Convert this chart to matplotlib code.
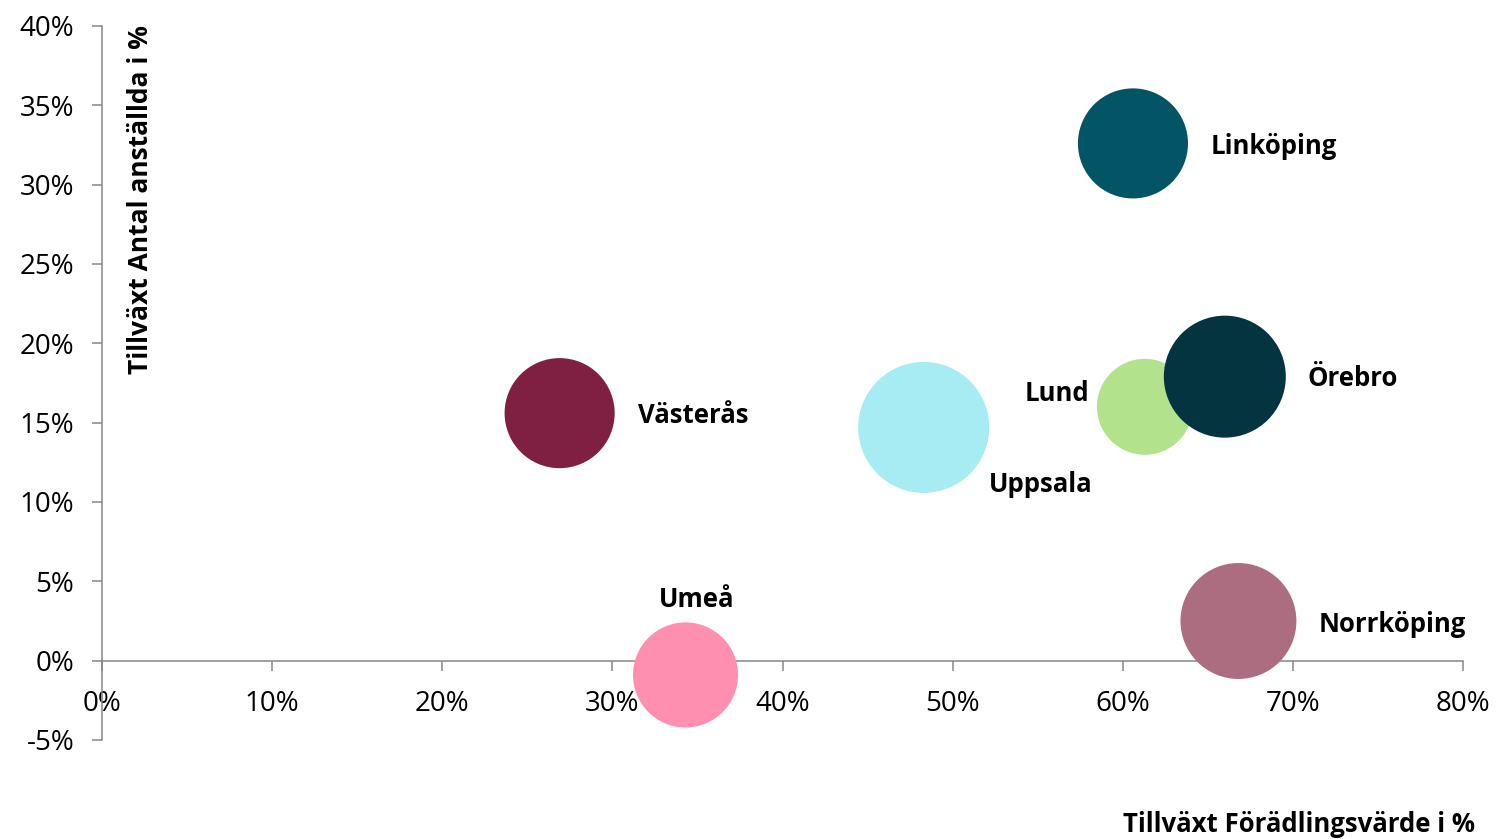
import matplotlib
matplotlib.use('Agg')
import matplotlib.pyplot as plt
from matplotlib.ticker import PercentFormatter

# data
cities = ['Linköping', 'Lund', 'Örebro', 'Uppsala', 'Västerås', 'Umeå', 'Norrköping']
growth_value = [60.6, 61.3, 66.0, 48.3, 26.9, 34.3, 66.8]      # Tillväxt Förädlingsvärde i %
growth_staff = [32.6, 16.0, 17.9, 14.7, 15.6, -0.9, 2.5]       # Tillväxt Antal anställda i %
bubble_size = [30.3, 23.0, 37.2, 42.9, 30.3, 27.6, 33.6]
colors = ['#035566', '#b3e28d', '#033440', '#a6ecf2', '#7f1f42', '#ff8fb1', '#ad6d80']

x_ticks = [0, 10, 20, 30, 40, 50, 60, 70, 80]
y_ticks = [-5, 0, 5, 10, 15, 20, 25, 30, 35, 40]

# label placement (offset in pixels from bubble centre, alignment)
label_pos = {
    'Linköping': (78, -3, 'left'),
    'Lund': (-56, 13, 'right'),
    'Örebro': (83, -2, 'left'),
    'Uppsala': (65, -57, 'left'),
    'Västerås': (78, -2, 'left'),
    'Umeå': (11, 75, 'center'),
    'Norrköping': (80, -4, 'left'),
}

plt.rcParams['font.family'] = ['Open Sans', 'DejaVu Sans']
plt.rcParams['axes.unicode_minus'] = False

dpi = 100
fig = plt.figure(figsize=(14.96, 8.39), dpi=dpi)
ax = fig.add_axes([102 / 1496, 1 - 740 / 839, (1463 - 102) / 1496, (740 - 26) / 839])

px = 72 / dpi
sizes = [(2 * (s * 100) ** 0.5 * px) ** 2 for s in bubble_size]
ax.scatter(growth_value, growth_staff, s=sizes, c=colors, linewidths=0, zorder=3)

for name, xv, yv in zip(cities, growth_value, growth_staff):
    dx, dy, ha = label_pos[name]
    ax.annotate(name, (xv, yv), xytext=(dx * px, dy * px), textcoords='offset points',
                ha=ha, va='center', fontsize=18.5, fontweight='bold', zorder=4)

ax.set_xlim(0, 80)
ax.set_ylim(-5, 40)
ax.set_xticks(x_ticks)
ax.set_yticks(y_ticks)
ax.xaxis.set_major_formatter(PercentFormatter(decimals=0))
ax.yaxis.set_major_formatter(PercentFormatter(decimals=0))

ax.spines['top'].set_visible(False)
ax.spines['right'].set_visible(False)
ax.spines['bottom'].set_position(('data', 0))
for sp in ['left', 'bottom']:
    ax.spines[sp].set_color('#868686')
    ax.spines[sp].set_linewidth(1.1)
ax.tick_params(axis='both', colors='#868686', labelcolor='black', labelsize=20,
               length=7, width=1.1, direction='out')
ax.tick_params(axis='x', pad=14)
ax.tick_params(axis='y', pad=13)

fig.text(141 / 1496, 1 - 25 / 839, 'Tillväxt Antal anställda i %', rotation=90,
         ha='center', va='top', fontsize=19, fontweight='bold')
fig.text(1475 / 1496, 1 - 825 / 839, 'Tillväxt Förädlingsvärde i %',
         ha='right', va='center', fontsize=18.5, fontweight='bold')

plt.savefig('out.png', dpi=dpi)
